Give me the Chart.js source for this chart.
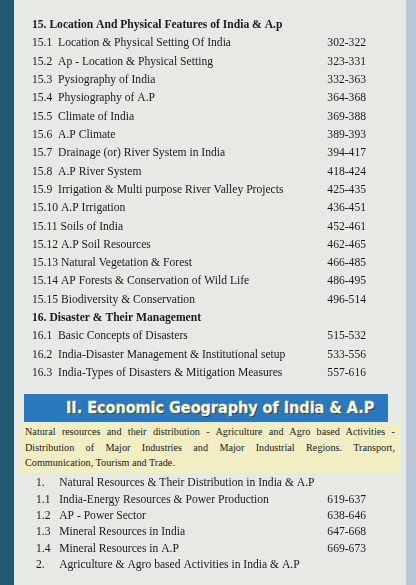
<!DOCTYPE html><html><head><meta charset="utf-8">
<script src="https://cdn.jsdelivr.net/npm/chart.js@4"></script>
<style>
body{margin:0;width:416px;height:585px;background:#b9c7d6;font-family:"Liberation Serif",serif;position:relative;overflow:hidden}
#bar{position:absolute;left:0;top:0;width:14px;height:585px;background:#1f5a6e}
#page{position:absolute;left:14px;top:0;width:392px;height:585px;background:#e6e9e4}
#c1w{position:absolute;left:14px;top:9px;width:392px;height:380px}
#c2w{position:absolute;left:14px;top:468px;width:392px;height:112px}
#ban{position:absolute;left:24px;top:394px;width:364px;height:28px;background:#2c78bf;color:#fff;font:bold 16px "DejaVu Sans Condensed",sans-serif;line-height:28px;padding-left:42px;box-sizing:border-box;text-shadow:1px 1px 0 #1a2f55;-webkit-text-stroke:0.4px #e8e070;white-space:nowrap}
#txt{position:absolute;left:20px;top:423px;width:380px;height:50px;background:#f0eec2;font:10.2px "Liberation Serif",serif;line-height:15.5px;padding:1px 5px;box-sizing:border-box;color:#222;text-align:justify}
</style></head><body>
<div id="bar"></div><div id="page"></div>
<div id="ban">II. Economic Geography of India &amp; A.P</div>
<div id="txt">Natural resources and their distribution - Agriculture and Agro based Activities - Distribution of Major Industries and Major Industrial Regions. Transport, Communication, Tourism and Trade.</div>
<div id="c1w"><canvas id="c1"></canvas></div>
<div id="c2w"><canvas id="c2"></canvas></div>
<script>
const topics1=["15. Location And Physical Features of India & A.p","15.1  Location & Physical Setting Of India","15.2  Ap - Location & Physical Setting","15.3  Pysiography of India","15.4  Physiography of A.P","15.5  Climate of India","15.6  A.P Climate","15.7  Drainage (or) River System in India","15.8  A.P River System","15.9  Irrigation & Multi purpose River Valley Projects","15.10 A.P Irrigation","15.11 Soils of India","15.12 A.P Soil Resources","15.13 Natural Vegetation & Forest","15.14 AP Forests & Conservation of Wild Life","15.15 Biodiversity & Conservation","16. Disaster & Their Management","16.1  Basic Concepts of Disasters","16.2  India-Disaster Management & Institutional setup","16.3  India-Types of Disasters & Mitigation Measures"];
const pages1=["","302-322","323-331","332-363","364-368","369-388","389-393","394-417","418-424","425-435","436-451","452-461","462-465","466-485","486-495","496-514","","515-532","533-556","557-616"];
const starts1=[null,302,323,332,364,369,389,394,418,425,436,452,462,466,486,496,null,515,533,557];
const ends1=[null,322,331,363,368,388,393,417,424,435,451,461,465,485,495,514,null,532,556,616];
const headings=["15. Location And Physical Features of India & A.p","16. Disaster & Their Management"];
const topics2=["1.     Natural Resources & Their Distribution in India & A.P","1.1   India-Energy Resources & Power Production","1.2   AP - Power Sector","1.3   Mineral Resources in India","1.4   Mineral Resources in A.P","2.     Agriculture & Agro based Activities in India & A.P"];
const pages2=["","619-637","638-646","647-668","669-673",""];
const starts2=[null,619,638,647,669,null];
const ends2=[null,637,646,668,673,null];
function make(id,topics,pages,starts,ends,left){
 new Chart(document.getElementById(id),{type:'bar',
  data:{labels:topics,datasets:[{data:starts.map((s,i)=>s==null?null:[s,ends[i]]),backgroundColor:'rgba(0,0,0,0)'}]},
  options:{indexAxis:'y',responsive:true,maintainAspectRatio:false,animation:false,
   layout:{padding:{top:0,bottom:0,left:left,right:54}},
   plugins:{legend:{display:false},tooltip:{enabled:false}},
   scales:{x:{display:false,min:300,max:700},
    y:{position:'left',grid:{display:false},border:{display:false},
     ticks:{crossAlign:'far',color:'#1a1a1a',padding:0,autoSkip:false,
      font:c=>({family:'Liberation Serif',size:11.6,weight:headings.includes(topics[c.index])?'bold':'normal'})},
     afterFit:a=>{a.width=312-left}},
    y2:{type:'category',labels:pages,position:'right',offset:true,grid:{display:false},border:{display:false},
     ticks:{crossAlign:'far',color:'#1a1a1a',autoSkip:false,padding:0,font:{family:'Liberation Serif',size:11.6}},
     afterFit:a=>{a.width=40}}}}});
}
make('c1',topics1,pages1,starts1,ends1,18);
make('c2',topics2,pages2,starts2,ends2,22);
</script></body></html>
